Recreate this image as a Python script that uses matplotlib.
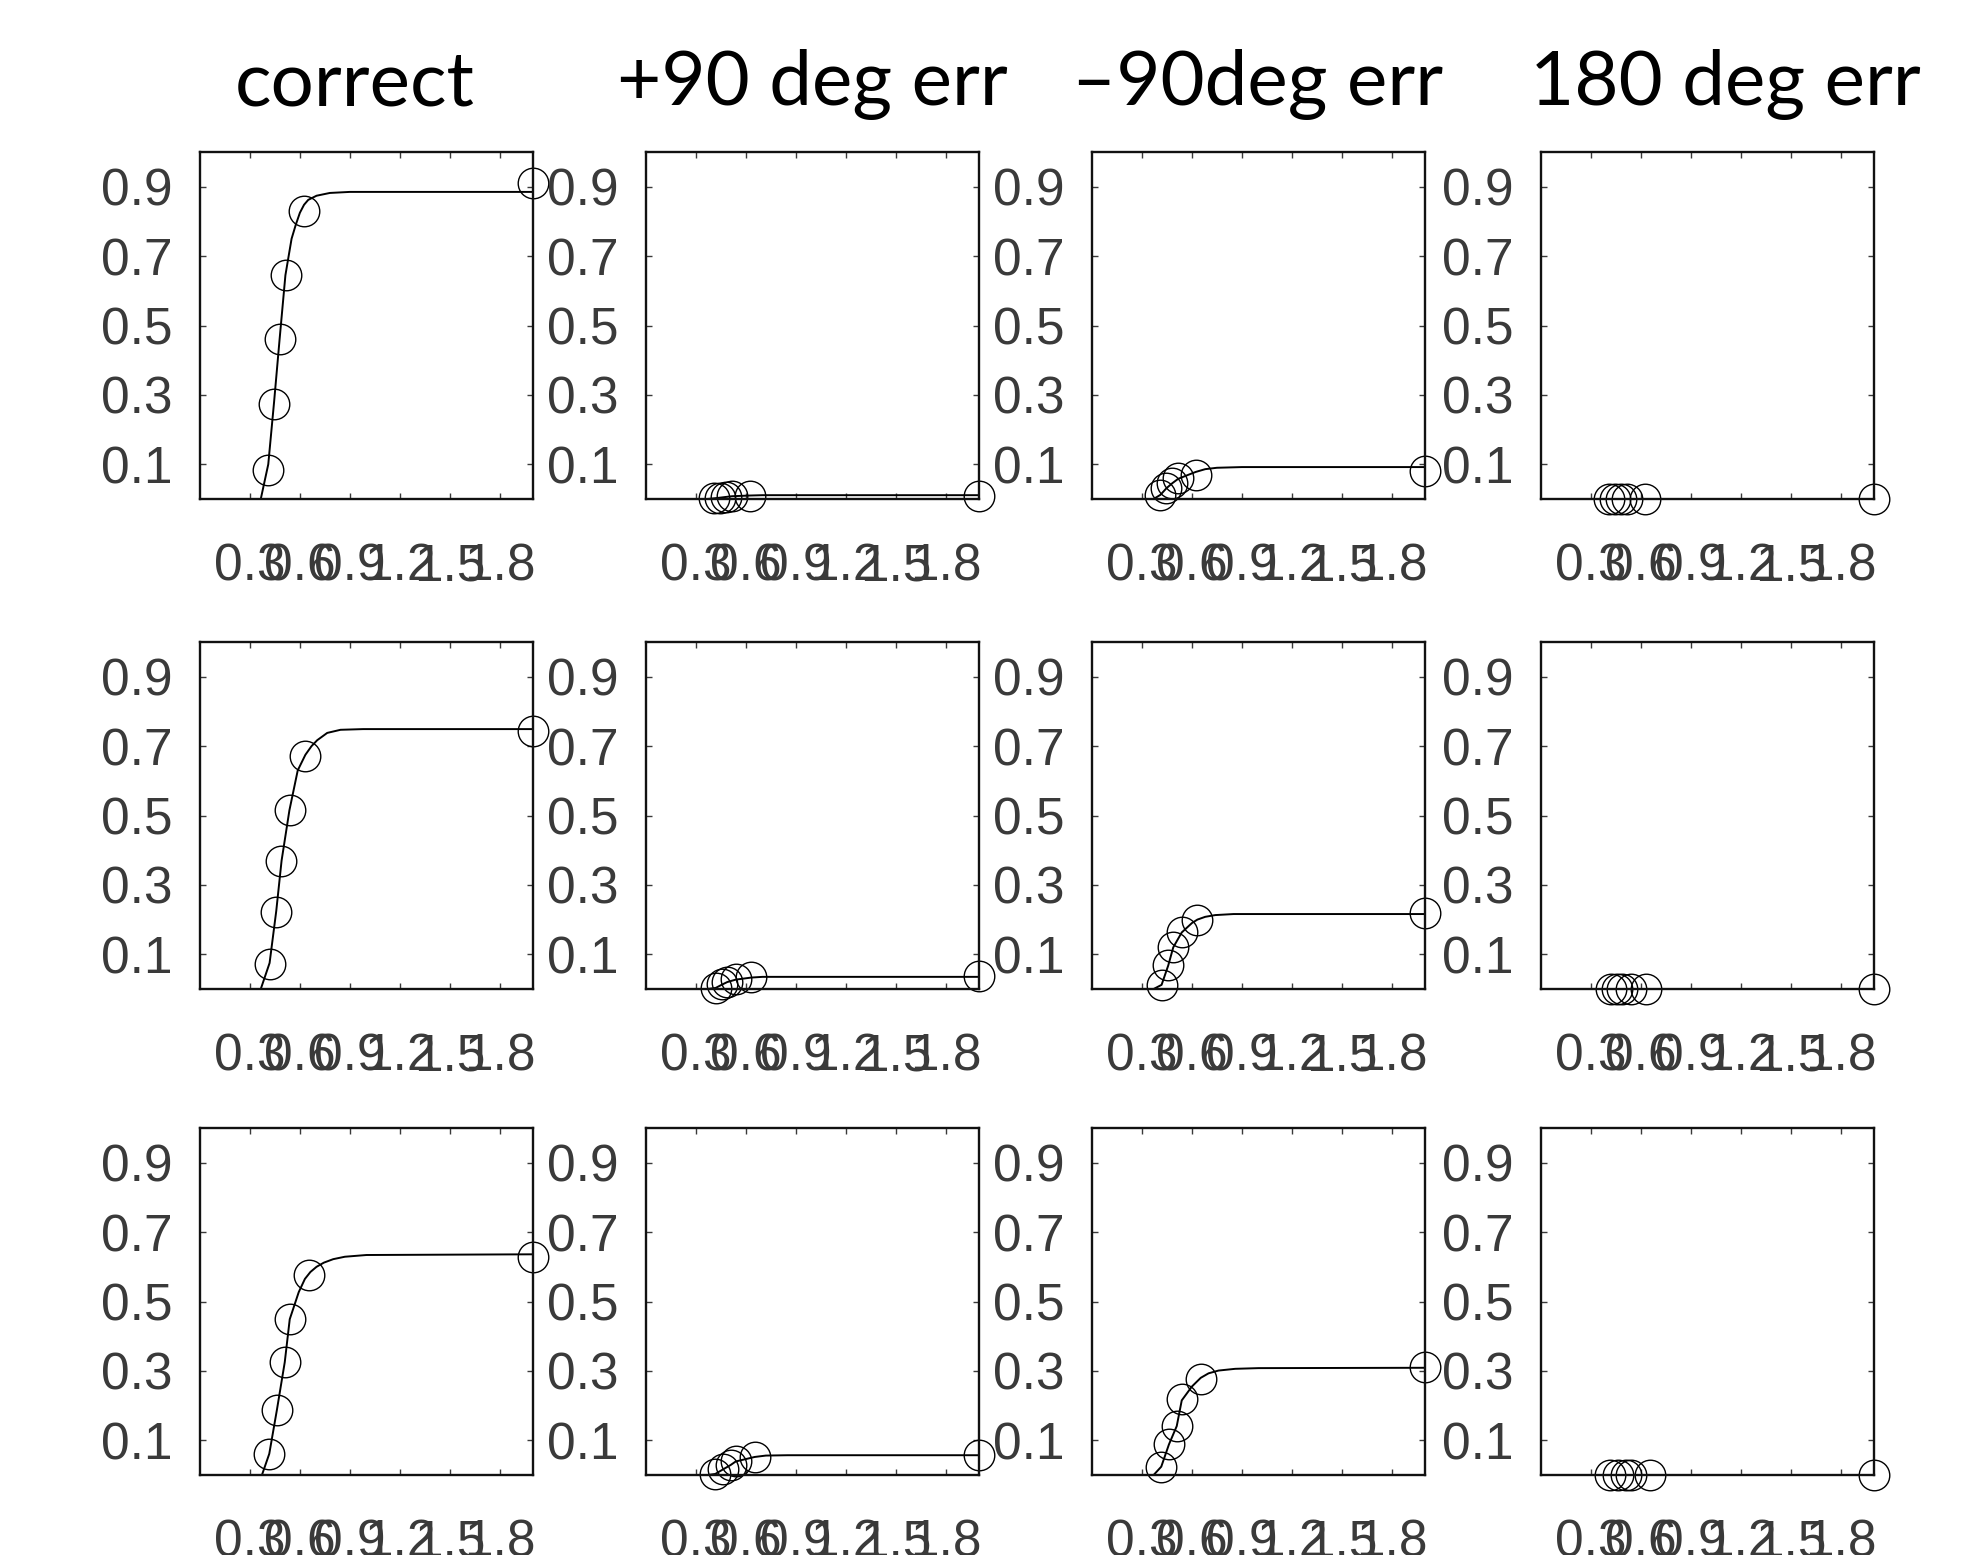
import matplotlib
matplotlib.use("Agg")
import matplotlib.pyplot as plt

# ---------------- data ----------------
col_titles = ["correct", "+90 deg err", "\u201390deg err", "180 deg err"]
xtick_vals = [0.3, 0.6, 0.9, 1.2, 1.5, 1.8]
xtick_labels = ["0.3", "0.6", "0.9", "1.2", "1.5", "1.8"]
ytick_vals = [0.1, 0.3, 0.5, 0.7, 0.9]
ytick_labels = ["0.1", "0.3", "0.5", "0.7", "0.9"]

# x positions of the circles, one list per row
pts_x_row1 = [0.411, 0.447, 0.481, 0.517, 0.623, 2.0]
pts_x_row2 = [0.418, 0.458, 0.488, 0.539, 0.633, 2.0]
pts_x_row3 = [0.416, 0.462, 0.509, 0.539, 0.653, 2.0]

# y positions of the circles
pts_y_r1c1 = [0.083, 0.275, 0.461, 0.645, 0.829, 0.911]
pts_y_r1c2 = [0.002, 0.004, 0.006, 0.008, 0.010, 0.010]
pts_y_r1c3 = [0.012, 0.031, 0.045, 0.060, 0.070, 0.082]
pts_y_r1c4 = [0.0, 0.0, 0.0, 0.0, 0.0, 0.0]
pts_y_r2c1 = [0.071, 0.223, 0.369, 0.515, 0.671, 0.744]
pts_y_r2c2 = [0.003, 0.014, 0.021, 0.028, 0.036, 0.037]
pts_y_r2c3 = [0.012, 0.069, 0.122, 0.165, 0.199, 0.218]
pts_y_r2c4 = [0.0, 0.0, 0.0, 0.0, 0.0, 0.0]
pts_y_r3c1 = [0.061, 0.188, 0.325, 0.449, 0.577, 0.627]
pts_y_r3c2 = [0.003, 0.016, 0.029, 0.040, 0.053, 0.058]
pts_y_r3c3 = [0.024, 0.088, 0.141, 0.218, 0.277, 0.312]
pts_y_r3c4 = [0.0, 0.0, 0.0, 0.0, 0.0, 0.0]

# fitted curves
cur_x_r1c1 = [0, 0.365, 0.41, 0.445, 0.478, 0.513, 0.55, 0.575, 0.60, 0.625, 0.65, 0.70, 0.78, 0.90, 2.0]
cur_y_r1c1 = [0, 0, 0.10, 0.28, 0.46, 0.645, 0.75, 0.79, 0.825, 0.848, 0.862, 0.874, 0.882, 0.885, 0.885]
cur_x_r1c2 = [0, 0.37, 0.411, 0.447, 0.481, 0.517, 0.623, 0.70, 2.0]
cur_y_r1c2 = [0, 0, 0.002, 0.004, 0.006, 0.008, 0.010, 0.011, 0.011]
cur_x_r1c3 = [0, 0.37, 0.411, 0.447, 0.481, 0.517, 0.58, 0.623, 0.68, 0.75, 0.90, 2.0]
cur_y_r1c3 = [0, 0, 0.012, 0.031, 0.045, 0.058, 0.070, 0.078, 0.086, 0.090, 0.092, 0.092]
cur_x_r1c4 = [0, 2.0]
cur_y_r1c4 = [0, 0]
cur_x_r2c1 = [0, 0.365, 0.418, 0.458, 0.49, 0.537, 0.587, 0.633, 0.67, 0.704, 0.764, 0.844, 0.98, 2.0]
cur_y_r2c1 = [0, 0, 0.075, 0.225, 0.37, 0.515, 0.63, 0.675, 0.70, 0.717, 0.738, 0.747, 0.749, 0.749]
cur_x_r2c2 = [0, 0.37, 0.418, 0.458, 0.488, 0.539, 0.633, 0.70, 0.85, 2.0]
cur_y_r2c2 = [0, 0, 0.003, 0.013, 0.020, 0.027, 0.033, 0.035, 0.035, 0.035]
cur_x_r2c3 = [0, 0.37, 0.418, 0.458, 0.488, 0.539, 0.60, 0.633, 0.68, 0.74, 0.85, 2.0]
cur_y_r2c3 = [0, 0, 0.012, 0.068, 0.12, 0.163, 0.19, 0.20, 0.208, 0.213, 0.216, 0.216]
cur_x_r2c4 = [0, 2.0]
cur_y_r2c4 = [0, 0]
cur_x_r3c1 = [0, 0.372, 0.416, 0.462, 0.509, 0.539, 0.593, 0.63, 0.663, 0.70, 0.744, 0.80, 0.87, 1.0, 2.0]
cur_y_r3c1 = [0, 0, 0.061, 0.188, 0.325, 0.449, 0.527, 0.565, 0.585, 0.60, 0.612, 0.622, 0.629, 0.634, 0.636]
cur_x_r3c2 = [0, 0.37, 0.416, 0.462, 0.509, 0.539, 0.653, 0.72, 0.85, 2.0]
cur_y_r3c2 = [0, 0, 0.003, 0.016, 0.029, 0.039, 0.052, 0.056, 0.057, 0.057]
cur_x_r3c3 = [0, 0.37, 0.416, 0.462, 0.509, 0.539, 0.60, 0.653, 0.70, 0.76, 0.86, 1.0, 2.0]
cur_y_r3c3 = [0, 0, 0.024, 0.088, 0.141, 0.215, 0.255, 0.28, 0.293, 0.301, 0.306, 0.308, 0.309]
cur_x_r3c4 = [0, 2.0]
cur_y_r3c4 = [0, 0]

pts_x_rows = [pts_x_row1, pts_x_row2, pts_x_row3]
pts_y = [[pts_y_r1c1, pts_y_r1c2, pts_y_r1c3, pts_y_r1c4],
         [pts_y_r2c1, pts_y_r2c2, pts_y_r2c3, pts_y_r2c4],
         [pts_y_r3c1, pts_y_r3c2, pts_y_r3c3, pts_y_r3c4]]
cur_x = [[cur_x_r1c1, cur_x_r1c2, cur_x_r1c3, cur_x_r1c4],
         [cur_x_r2c1, cur_x_r2c2, cur_x_r2c3, cur_x_r2c4],
         [cur_x_r3c1, cur_x_r3c2, cur_x_r3c3, cur_x_r3c4]]
cur_y = [[cur_y_r1c1, cur_y_r1c2, cur_y_r1c3, cur_y_r1c4],
         [cur_y_r2c1, cur_y_r2c2, cur_y_r2c3, cur_y_r2c4],
         [cur_y_r3c1, cur_y_r3c2, cur_y_r3c3, cur_y_r3c4]]

# ---------------- layout ----------------
W, H = 1978, 1555
fig = plt.figure(figsize=(W / 100, H / 100), dpi=100)
fig.patch.set_facecolor("white")

ax_left_px = [200, 646, 1092, 1541]
ax_top_px = [152, 642, 1128]
ax_w_px, ax_h_px = 333, 347

tick_color = "#3a3a3a"
for r in range(3):
    for c in range(4):
        ax = fig.add_axes([ax_left_px[c] / W, 1 - (ax_top_px[r] + ax_h_px) / H,
                           ax_w_px / W, ax_h_px / H])
        ax.plot(cur_x[r][c], cur_y[r][c], color="black", lw=1.4, zorder=2)
        ax.plot(pts_x_rows[r], pts_y[r][c], ls="none", marker="o", ms=22,
                mfc="none", mec="black", mew=1.0, clip_on=False, zorder=3)
        ax.set_xlim(0, 2)
        ax.set_ylim(0, 1)
        ax.set_xticks(xtick_vals)
        ax.set_xticklabels(xtick_labels)
        ax.set_yticks(ytick_vals)
        ax.set_yticklabels(ytick_labels)
        ax.tick_params(direction="in", length=4, width=1.0, top=True, right=True,
                       colors=tick_color, labelsize=37)
        ax.tick_params(axis="x", pad=31)
        ax.tick_params(axis="y", pad=19.5)
        for lab in ax.get_xticklabels() + ax.get_yticklabels():
            lab.set_fontfamily(["Liberation Sans", "DejaVu Sans"])
        for sp in ax.spines.values():
            sp.set_linewidth(1.7)
            sp.set_color("#111111")
            sp.set_zorder(4)

title_cx = [355, 812, 1258, 1725]
for c in range(4):
    fig.text(title_cx[c] / W, 1 - 105 / H, col_titles[c], ha="center", va="baseline",
             fontsize=55, family=["Lato", "DejaVu Sans"], color="black")

fig.savefig("out.png", dpi=100, facecolor="white")
